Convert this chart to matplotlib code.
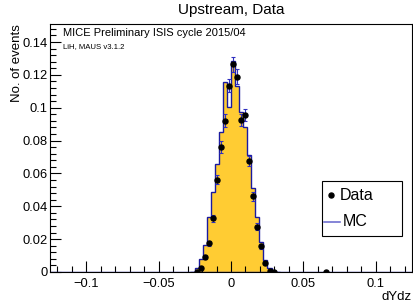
import numpy as np
import matplotlib
matplotlib.use("Agg")
import matplotlib.pyplot as plt
from matplotlib.ticker import MultipleLocator
from matplotlib.lines import Line2D
from matplotlib.patches import Rectangle

plt.rcParams['font.family'] = ['Liberation Sans', 'DejaVu Sans']

# ---- data ----
bin_width = 0.0028
# MC histogram: bin index (k -> [k*w, (k+1)*w]) and normalised content
mc_bins = [-10, -9, -8, -7, -6, -5, -4, -3, -2, -1, 0, 1, 2, 3, 4, 5, 6, 7, 8, 9, 10, 11]
mc_vals = [0.0003, 0.0022, 0.0077, 0.0164, 0.0336, 0.0488, 0.0657, 0.0850, 0.1158, 0.1005,
           0.1284, 0.1130, 0.0975, 0.0880, 0.0711, 0.0509, 0.0336, 0.0184, 0.0073, 0.0022, 0.0003, 0.0]
# Data points: bin index, content, error
data_bins = [-9, -8, -7, -6, -5, -4, -3, -2, -1, 0, 1, 2, 3, 4, 5, 6, 7, 8, 9, 10, 23]
data_vals = [0.0002, 0.0022, 0.0089, 0.0174, 0.0326, 0.0563, 0.0762, 0.0922, 0.1135, 0.1264,
             0.1190, 0.0924, 0.0956, 0.0675, 0.0462, 0.0275, 0.0156, 0.0057, 0.0008, 0.0002, 0.0002]
data_errs = [0.0002, 0.0006, 0.0012, 0.0016, 0.0023, 0.0030, 0.0035, 0.0038, 0.0042, 0.0044,
             0.0043, 0.0038, 0.0039, 0.0032, 0.0027, 0.0021, 0.0016, 0.0009, 0.0004, 0.0002, 0.0002]
legend_labels = ['Data', 'MC']

x_range = (-0.125, 0.125)
y_top = 0.151

W, H = 414, 304
fig = plt.figure(figsize=(W / 100, H / 100), dpi=100)
ax = fig.add_axes([50 / W, 32 / H, 362 / W, 248 / H])

mc_edges = np.array(mc_bins + [mc_bins[-1] + 1]) * bin_width
mc_x = np.array(mc_bins) * bin_width
ax.hist(mc_x, bins=mc_edges, weights=mc_vals, histtype='stepfilled',
        color='#ffcc33', zorder=1)
ax.hist(mc_x, bins=mc_edges, weights=mc_vals, histtype='step',
        color='#1a1aa0', linewidth=1.0, zorder=2)
ax.plot(x_range, [0, 0], color='#1a1aa0', lw=1.0, zorder=2)

dx = (np.array(data_bins) + 0.5) * bin_width
ax.errorbar(dx, data_vals, yerr=data_errs, fmt='o', color='black', ms=3.6,
            ecolor='#3030c0', elinewidth=0.8, capsize=1.2, capthick=0.8, zorder=3)

ax.set_xlim(*x_range)
ax.set_ylim(0, y_top)

ax.xaxis.set_major_locator(MultipleLocator(0.05))
ax.xaxis.set_minor_locator(MultipleLocator(0.01))
ax.yaxis.set_major_locator(MultipleLocator(0.02))
ax.yaxis.set_minor_locator(MultipleLocator(0.004))
ax.tick_params(which='both', direction='in', top=False, right=False, labelsize=9.3,
               colors='black', width=0.8)
ax.tick_params(which='major', length=8)
ax.tick_params(which='minor', length=4)
ax.tick_params(axis='x', which='major', pad=4)
ax.tick_params(axis='y', which='major', pad=1.5)
ax.set_xticks([-0.1, -0.05, 0, 0.05, 0.1])
ax.set_xticklabels(['\u22120.1', '\u22120.05', '0', '0.05', '0.1'])
ax.set_yticks([0, 0.02, 0.04, 0.06, 0.08, 0.1, 0.12, 0.14])
ax.set_yticklabels(['0', '0.02', '0.04', '0.06', '0.08', '0.1', '0.12', '0.14'])
for s in ax.spines.values():
    s.set_linewidth(0.8)

ax.set_xlabel('dYdz', fontsize=9.5, loc='right', labelpad=1)
ax.set_ylabel('No. of events', fontsize=9.5, loc='top', labelpad=0)

fig.text(231 / W, 1 - 10 / H, 'Upstream, Data', ha='center', va='center', fontsize=11)
fig.text(63 / W, 1 - 33 / H, 'MICE Preliminary ISIS cycle 2015/04', fontsize=8, va='center')
fig.text(63 / W, 1 - 47 / H, 'LiH, MAUS v3.1.2', fontsize=5.6, va='center')

# legend box (ROOT-style)
fig.add_artist(Rectangle((322 / W, 1 - 236 / H), 80 / W, 55 / H, transform=fig.transFigure,
                         facecolor='white', edgecolor='black', lw=0.8, zorder=5))
fig.add_artist(Line2D([331 / W], [1 - 195 / H], marker='o', ls='none', color='black', ms=3.6,
                      transform=fig.transFigure, zorder=6))
fig.add_artist(Line2D([324 / W, 340 / W], [1 - 222 / H, 1 - 222 / H], color='#7070d0', lw=1.2,
                      transform=fig.transFigure, zorder=6))
fig.text(340 / W, 1 - 195 / H, legend_labels[0], fontsize=11.5, va='center', zorder=7)
fig.text(343 / W, 1 - 222 / H, legend_labels[1], fontsize=11.5, va='center', zorder=7)

fig.savefig('out.png', dpi=100)
